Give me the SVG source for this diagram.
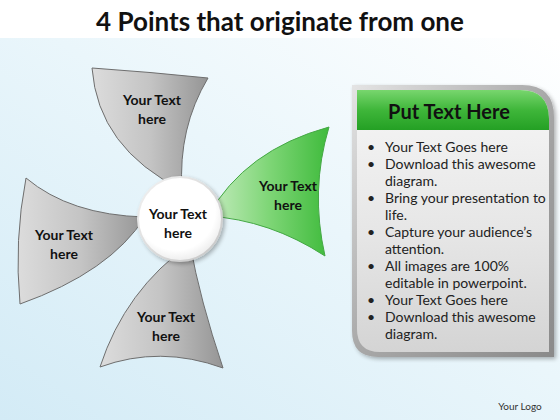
<svg xmlns="http://www.w3.org/2000/svg" width="560" height="420" viewBox="0 0 560 420">
<defs>
<linearGradient id="bg" x1="1" y1="0" x2="0" y2="1">
<stop offset="0" stop-color="#ffffff"/>
<stop offset="0.45" stop-color="#eaf6fb"/>
<stop offset="1" stop-color="#d3ebf6"/>
</linearGradient>
<linearGradient id="gray" x1="0" y1="0" x2="1" y2="0">
<stop offset="0" stop-color="#dcdcdc"/>
<stop offset="0.5" stop-color="#c4c4c4"/>
<stop offset="1" stop-color="#959595"/>
</linearGradient>
<linearGradient id="green" x1="0" y1="0" x2="1" y2="0">
<stop offset="0" stop-color="#c6ecc0"/>
<stop offset="0.5" stop-color="#7fd677"/>
<stop offset="1" stop-color="#3fbb3c"/>
</linearGradient>
<linearGradient id="ring" x1="0" y1="0" x2="1" y2="1">
<stop offset="0" stop-color="#f4f4f4"/>
<stop offset="1" stop-color="#c4c4c4"/>
</linearGradient>
<radialGradient id="disc" cx="0.45" cy="0.4" r="0.6">
<stop offset="0" stop-color="#ffffff"/>
<stop offset="0.8" stop-color="#ffffff"/>
<stop offset="1" stop-color="#efefef"/>
</radialGradient>
<linearGradient id="frame" x1="0" y1="0" x2="1" y2="1">
<stop offset="0" stop-color="#e4e4e4"/>
<stop offset="0.5" stop-color="#a8a8a8"/>
<stop offset="1" stop-color="#8a8a8a"/>
</linearGradient>
<linearGradient id="body" x1="0" y1="0" x2="0" y2="1">
<stop offset="0" stop-color="#f6f6f6"/>
<stop offset="0.55" stop-color="#e6e6e6"/>
<stop offset="1" stop-color="#d4d4d4"/>
</linearGradient>
<linearGradient id="head" x1="0" y1="0" x2="0" y2="1">
<stop offset="0" stop-color="#78d66e"/>
<stop offset="0.5" stop-color="#3fb63a"/>
<stop offset="1" stop-color="#24a024"/>
</linearGradient>
<filter id="sh" x="-20%" y="-20%" width="150%" height="150%">
<feGaussianBlur in="SourceAlpha" stdDeviation="2"/>
<feOffset dx="2" dy="2" result="b"/>
<feComponentTransfer><feFuncA type="linear" slope="0.3"/></feComponentTransfer>
<feMerge><feMergeNode/><feMergeNode in="SourceGraphic"/></feMerge>
</filter>
</defs>
<style>
.lbl{font-family:Lato,"Open Sans",sans-serif;font-weight:bold;font-size:14px;fill:#111;text-anchor:middle}
.petal{fill:url(#gray);stroke:#6e6e6e;stroke-width:1}
.bul{font-family:Lato,"Open Sans",sans-serif;font-size:14px;fill:#222}
</style>
<rect width="560" height="420" fill="#ffffff"/>
<rect x="0" y="38" width="560" height="382" fill="url(#bg)"/>
<text x="280" y="31" font-family="Lato,'Open Sans',sans-serif" font-weight="bold" font-size="26" fill="#111" text-anchor="middle">4 Points that originate from one</text>
<g id="connectors"/>
<g id="petal-top">
<path class="petal" d="M92,68 Q150,72 208,78 Q178,128 182,190 Q98,148 92,68 Z"/>
<text class="lbl" x="152" y="105">Your Text</text>
<text class="lbl" x="152" y="124">here</text>
</g>
<g id="petal-left">
<path class="petal" d="M26,178 Q70,215 145,217 Q110,272 20,304 Q14,240 26,178 Z"/>
<text class="lbl" x="64" y="240">Your Text</text>
<text class="lbl" x="64" y="259">here</text>
</g>
<g id="petal-bottom">
<path class="petal" d="M190,244 Q200,300 223,368 Q160,345 100,367 Q125,290 190,244 Z"/>
<text class="lbl" x="166" y="322">Your Text</text>
<text class="lbl" x="166" y="341">here</text>
</g>
<g id="petal-green">
<path d="M208,216 Q245,150 329,127 Q310,190 325,256 Q270,220 208,216 Z" fill="url(#green)" stroke="#45a845" stroke-width="1"/>
<text class="lbl" x="288" y="191">Your Text</text>
<text class="lbl" x="288" y="210">here</text>
</g>
<g id="center">
<circle cx="180" cy="219" r="43" fill="url(#ring)" filter="url(#sh)"/>
<circle cx="180" cy="219" r="41" fill="url(#disc)"/>
<text class="lbl" x="178" y="219">Your Text</text>
<text class="lbl" x="178" y="238">here</text>
</g>
<g id="panel">
<path d="M352,85 H522 Q554,85 554,117 V357 H378 Q352,357 352,331 Z" fill="url(#frame)" filter="url(#sh)"/>
<path d="M357,90 H520 Q549,90 549,119 V352 H380 Q357,352 357,329 Z" fill="url(#body)"/>
<path d="M357,90 H520 Q549,90 549,119 V130 H357 Z" fill="url(#head)"/>
<text x="449" y="119" font-family="Lato,'Open Sans',sans-serif" font-weight="bold" font-size="20" fill="#111" text-anchor="middle">Put Text Here</text>
<g class="bul">
<text x="367" y="152">•</text><text x="385" y="152">Your Text Goes here</text>
<text x="367" y="169">•</text><text x="385" y="169">Download this awesome</text>
<text x="385" y="186">diagram.</text>
<text x="367" y="203">•</text><text x="385" y="203">Bring your presentation to</text>
<text x="385" y="220">life.</text>
<text x="367" y="237">•</text><text x="385" y="237">Capture your audience’s</text>
<text x="385" y="254">attention.</text>
<text x="367" y="271">•</text><text x="385" y="271">All images are 100%</text>
<text x="385" y="288">editable in powerpoint.</text>
<text x="367" y="305">•</text><text x="385" y="305">Your Text Goes here</text>
<text x="367" y="322">•</text><text x="385" y="322">Download this awesome</text>
<text x="385" y="339">diagram.</text>
</g>
</g>
<text x="520" y="410" font-family="Lato,'Open Sans',sans-serif" font-size="10" fill="#333" text-anchor="middle">Your Logo</text>
</svg>
